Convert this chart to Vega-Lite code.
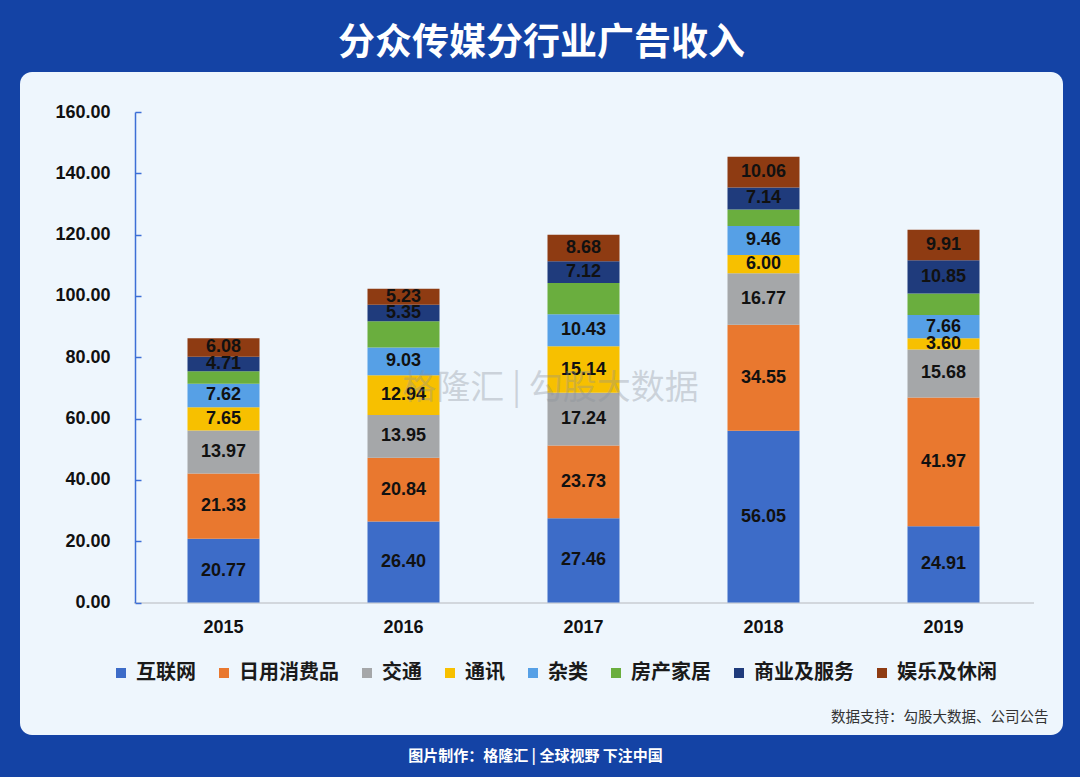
{
  "$schema": "https://vega.github.io/schema/vega-lite/v6.json",
  "width": 1043,
  "height": 663,
  "autosize": {"type": "none"},
  "padding": {"left": 20, "top": 72, "right": 17, "bottom": 42},
  "background": "#1443a5",
  "view": {"fill": "#eef6fd", "stroke": null, "cornerRadius": 12},
  "title": {
    "text": "分众传媒分行业广告收入",
    "fontSize": 37,
    "font": "Noto Sans CJK SC",
    "fontWeight": "bold",
    "color": "#ffffff",
    "anchor": "middle",
    "offset": 9
  },
  "data": {
    "values": [
      {"year": "2015", "cat": "互联网", "k": 1, "value": 20.77},
      {"year": "2015", "cat": "日用消费品", "k": 2, "value": 21.33},
      {"year": "2015", "cat": "交通", "k": 3, "value": 13.97},
      {"year": "2015", "cat": "通讯", "k": 4, "value": 7.65},
      {"year": "2015", "cat": "杂类", "k": 5, "value": 7.62},
      {"year": "2015", "cat": "房产家居", "k": 6, "value": 4.1},
      {"year": "2015", "cat": "商业及服务", "k": 7, "value": 4.71},
      {"year": "2015", "cat": "娱乐及休闲", "k": 8, "value": 6.08},
      {"year": "2016", "cat": "互联网", "k": 1, "value": 26.40},
      {"year": "2016", "cat": "日用消费品", "k": 2, "value": 20.84},
      {"year": "2016", "cat": "交通", "k": 3, "value": 13.95},
      {"year": "2016", "cat": "通讯", "k": 4, "value": 12.94},
      {"year": "2016", "cat": "杂类", "k": 5, "value": 9.03},
      {"year": "2016", "cat": "房产家居", "k": 6, "value": 8.6},
      {"year": "2016", "cat": "商业及服务", "k": 7, "value": 5.35},
      {"year": "2016", "cat": "娱乐及休闲", "k": 8, "value": 5.23},
      {"year": "2017", "cat": "互联网", "k": 1, "value": 27.46},
      {"year": "2017", "cat": "日用消费品", "k": 2, "value": 23.73},
      {"year": "2017", "cat": "交通", "k": 3, "value": 17.24},
      {"year": "2017", "cat": "通讯", "k": 4, "value": 15.14},
      {"year": "2017", "cat": "杂类", "k": 5, "value": 10.43},
      {"year": "2017", "cat": "房产家居", "k": 6, "value": 10.2},
      {"year": "2017", "cat": "商业及服务", "k": 7, "value": 7.12},
      {"year": "2017", "cat": "娱乐及休闲", "k": 8, "value": 8.68},
      {"year": "2018", "cat": "互联网", "k": 1, "value": 56.05},
      {"year": "2018", "cat": "日用消费品", "k": 2, "value": 34.55},
      {"year": "2018", "cat": "交通", "k": 3, "value": 16.77},
      {"year": "2018", "cat": "通讯", "k": 4, "value": 6.00},
      {"year": "2018", "cat": "杂类", "k": 5, "value": 9.46},
      {"year": "2018", "cat": "房产家居", "k": 6, "value": 5.4},
      {"year": "2018", "cat": "商业及服务", "k": 7, "value": 7.14},
      {"year": "2018", "cat": "娱乐及休闲", "k": 8, "value": 10.06},
      {"year": "2019", "cat": "互联网", "k": 1, "value": 24.91},
      {"year": "2019", "cat": "日用消费品", "k": 2, "value": 41.97},
      {"year": "2019", "cat": "交通", "k": 3, "value": 15.68},
      {"year": "2019", "cat": "通讯", "k": 4, "value": 3.60},
      {"year": "2019", "cat": "杂类", "k": 5, "value": 7.66},
      {"year": "2019", "cat": "房产家居", "k": 6, "value": 7.0},
      {"year": "2019", "cat": "商业及服务", "k": 7, "value": 10.85},
      {"year": "2019", "cat": "娱乐及休闲", "k": 8, "value": 9.91}
    ]
  },
  "layer": [
    {
      "mark": {"type": "bar"},
      "encoding": {
        "x": {
          "field": "year",
          "type": "ordinal",
          "scale": {"range": [113.5, 1013.5], "paddingInner": 0.6, "paddingOuter": 0.3},
          "axis": {
            "offset": -132.5,
            "ticks": false,
            "labelPadding": 16,
            "labelFont": "Liberation Sans",
            "labelFontSize": 18,
            "labelFontWeight": "bold",
            "labelColor": "#111111",
            "labelAngle": 0,
            "domainColor": "#c9cdd2",
            "domainWidth": 1.5,
            "grid": false,
            "title": "数据支持：勾股大数据、公司公告",
            "titleX": 1028,
            "titleY": 114.5,
            "titleAlign": "right",
            "titleBaseline": "middle",
            "titleAngle": 0,
            "titleFont": "Noto Sans CJK SC",
            "titleFontSize": 14.5,
            "titleFontWeight": "normal",
            "titleColor": "#333333"
          }
        },
        "y": {
          "field": "value",
          "type": "quantitative",
          "stack": "zero",
          "scale": {"domain": [0, 160], "range": [530.5, 40], "nice": false, "zero": true},
          "axis": {
            "values": [0, 20, 40, 60, 80, 100, 120, 140, 160],
            "format": ".2f",
            "offset": -115,
            "grid": false,
            "labelFont": "Liberation Sans",
            "labelFontSize": 18,
            "labelFontWeight": "bold",
            "labelColor": "#111111",
            "labelPadding": 31,
            "domainColor": "#3d6fd6",
            "domainWidth": 1.5,
            "tickColor": "#3d6fd6",
            "tickWidth": 1.5,
            "tickSize": -6,
            "title": "图片制作：格隆汇 | 全球视野 下注中国",
            "titleX": 400,
            "titleY": 683,
            "titleAngle": 0,
            "titleAlign": "center",
            "titleBaseline": "middle",
            "titleFont": "Noto Sans CJK SC",
            "titleFontSize": 15,
            "titleFontWeight": "bold",
            "titleColor": "#ffffff"
          }
        },
        "color": {
          "field": "cat",
          "type": "nominal",
          "scale": {
            "domain": ["互联网", "日用消费品", "交通", "通讯", "杂类", "房产家居", "商业及服务", "娱乐及休闲"],
            "range": ["#3d6cc8", "#e9782f", "#a5a7a9", "#f7c000", "#56a0e6", "#6aae3e", "#1f3b7c", "#8e3b12"]
          },
          "legend": {
            "orient": "none",
            "legendX": 91,
            "legendY": 591,
            "direction": "horizontal",
            "columns": 8,
            "title": null,
            "symbolType": "square",
            "symbolSize": 100,
            "symbolStrokeWidth": 0,
            "labelFont": "Noto Sans CJK SC",
            "labelFontSize": 20,
            "labelFontWeight": "bold",
            "labelColor": "#1a1a1a",
            "labelOffset": 5,
            "columnPadding": 18
          }
        },
        "order": {"field": "k", "type": "quantitative"}
      }
    },
    {
      "mark": {
        "type": "text",
        "font": "Liberation Sans",
        "fontSize": 18,
        "fontWeight": "bold",
        "color": "#111111",
        "align": "center",
        "baseline": "middle"
      },
      "encoding": {
        "x": {"field": "year", "type": "ordinal"},
        "y": {
          "field": "value",
          "type": "quantitative",
          "stack": "zero",
          "bandPosition": 0.5,
          "axis": {
            "orient": "right",
            "labels": false,
            "ticks": false,
            "domain": false,
            "grid": false,
            "title": "格隆汇 | 勾股大数据",
            "titleX": -513,
            "titleY": 316,
            "titleAngle": 0,
            "titleAlign": "center",
            "titleBaseline": "middle",
            "titleFont": "Noto Sans CJK SC",
            "titleFontSize": 34,
            "titleFontWeight": "normal",
            "titleColor": "#8a9098",
            "titleOpacity": 0.35,
            "zindex": 1
          }
        },
        "detail": {"field": "cat", "type": "nominal"},
        "order": {"field": "k", "type": "quantitative"},
        "text": {
          "condition": {"test": "datum.cat === '房产家居'", "value": ""},
          "field": "value",
          "type": "quantitative",
          "format": ".2f"
        }
      }
    }
  ],
  "resolve": {"axis": {"y": "independent"}}
}
